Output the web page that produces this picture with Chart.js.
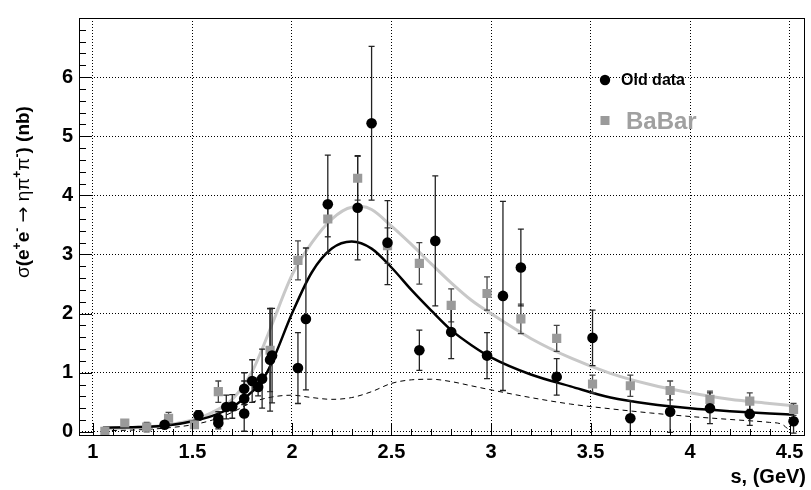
<!DOCTYPE html>
<html>
<head>
<meta charset="utf-8">
<script src="https://cdn.jsdelivr.net/npm/chart.js@4.4.1/dist/chart.umd.min.js"></script>
<style>
html,body{margin:0;padding:0;background:#fff;}
canvas{display:block;}
</style>
</head>
<body>
<canvas id="c" width="811" height="490"></canvas>
<script>
// ---- Data ----
const oldX   = [1.36,1.53,1.63,1.63,1.67,1.70,1.76,1.76,1.76,1.80,1.83,1.85,1.89,1.90,2.03,2.07,2.18,2.33,2.40,2.48,2.64,2.72,2.80,2.98,3.06,3.15,3.33,3.51,3.70,3.90,4.10,4.30,4.52];
const oldY   = [0.12,0.28,0.15,0.22,0.42,0.43,0.73,0.56,0.31,0.86,0.76,0.90,1.22,1.29,1.08,1.91,3.85,3.79,5.22,3.20,1.38,3.23,1.69,1.29,2.30,2.78,0.93,1.59,0.23,0.34,0.40,0.30,0.18];
const oldErr = [0.05,0.08,0.10,0.12,0.20,0.20,0.27,0.30,0.30,0.36,0.15,0.50,0.87,0.80,0.60,1.20,0.83,0.88,1.30,0.71,0.34,1.10,0.45,0.39,1.60,0.65,0.31,0.47,0.30,0.35,0.26,0.19,0.20];

const babarX   = [1.06,1.16,1.27,1.38,1.51,1.63,1.89,2.03,2.18,2.33,2.48,2.64,2.80,2.98,3.15,3.33,3.51,3.70,3.90,4.10,4.30,4.52];
const babarY   = [0.01,0.15,0.08,0.23,0.12,0.68,1.38,2.90,3.60,4.29,3.15,2.85,2.14,2.34,1.91,1.58,0.81,0.78,0.70,0.55,0.52,0.38];
const babarErr = [0.03,0.04,0.08,0.10,0.05,0.18,0.70,0.33,0.30,0.37,0.30,0.35,0.28,0.28,0.25,0.22,0.15,0.18,0.16,0.14,0.14,0.10];

const fitOldX = [1.05,1.2,1.3,1.4,1.5,1.6,1.7,1.8,1.85,1.9,2.0,2.1,2.2,2.3,2.4,2.5,2.6,2.7,2.8,2.9,3.0,3.2,3.4,3.6,3.8,4.0,4.2,4.4,4.52];
const fitOldY = [0.07,0.08,0.09,0.12,0.18,0.27,0.42,0.68,0.86,1.18,2.0,2.7,3.1,3.22,3.1,2.78,2.4,2.05,1.72,1.47,1.26,0.97,0.77,0.58,0.47,0.40,0.35,0.31,0.29];

const fitBabarX = [1.05,1.2,1.3,1.4,1.5,1.6,1.7,1.8,1.85,1.9,2.0,2.1,2.2,2.3,2.35,2.4,2.5,2.6,2.7,2.8,2.9,3.0,3.2,3.4,3.6,3.8,4.0,4.2,4.4,4.52];
const fitBabarY = [0.05,0.07,0.09,0.13,0.20,0.33,0.55,1.02,1.40,1.82,2.65,3.2,3.6,3.8,3.81,3.76,3.48,3.17,2.84,2.52,2.23,2.0,1.58,1.25,0.99,0.80,0.66,0.55,0.48,0.44];

const bgX = [1.05,1.2,1.35,1.5,1.6,1.7,1.8,1.9,2.0,2.1,2.2,2.3,2.4,2.5,2.6,2.7,2.8,2.9,3.0,3.2,3.4,3.6,3.8,4.0,4.2,4.4,4.46,4.49,4.5];
const bgY = [0.02,0.03,0.06,0.12,0.20,0.33,0.50,0.59,0.62,0.58,0.55,0.58,0.68,0.82,0.88,0.89,0.85,0.78,0.71,0.58,0.47,0.39,0.32,0.26,0.21,0.16,0.13,0.05,0.0];

const xTickValues = [1,1.5,2,2.5,3,3.5,4,4.5];
const yTickValues = [0,1,2,3,4,5,6];
const legendLabels = ['Old data','BaBar'];

const pts = (xs, ys) => xs.map((x,i)=>({x:x, y:ys[i]}));

const FONT = '"Liberation Sans", Arial, Helvetica, sans-serif';

// ---- Plugins ----
const errorBars = {
  id: 'errorBars',
  afterDatasetDraw(chart, args) {
    if (args.index !== 2) return;
    const {ctx, chartArea:a, scales:{x, y}} = chart;
    ctx.save();
    ctx.beginPath(); ctx.rect(a.left, a.top, a.right-a.left, a.bottom-a.top); ctx.clip();
    ctx.lineWidth = 1.3;
    const draw = (xs, ys, es, col) => {
      ctx.strokeStyle = col;
      xs.forEach((xv,i)=>{
        const px = x.getPixelForValue(xv);
        const p1 = y.getPixelForValue(ys[i]+es[i]);
        const p2 = y.getPixelForValue(ys[i]-es[i]);
        ctx.beginPath();
        ctx.moveTo(px,p1); ctx.lineTo(px,p2);
        ctx.moveTo(px-3,p1); ctx.lineTo(px+3,p1);
        ctx.moveTo(px-3,p2); ctx.lineTo(px+3,p2);
        ctx.stroke();
      });
    };
    draw(babarX, babarY, babarErr, '#444');
    draw(oldX, oldY, oldErr, '#222');
    ctx.restore();
  }
};

const frameTicks = {
  id: 'frameTicks',
  afterDraw(chart) {
    const {ctx, chartArea:a, scales:{x, y}} = chart;
    ctx.save();
    ctx.strokeStyle = '#000';
    ctx.lineWidth = 1;
    ctx.strokeRect(Math.round(a.left)+0.5, Math.round(a.top)+0.5, Math.round(a.right-a.left)-1, Math.round(a.bottom-a.top)-1);
    ctx.beginPath();
    for (let k=10; k<=45; k++) {
      const v = k/10;
      const px = Math.round(x.getPixelForValue(v))+0.5;
      const len = (k%5===0) ? 13 : 7;
      ctx.moveTo(px, a.bottom); ctx.lineTo(px, a.bottom-len);
    }
    for (let k=0; k<=35; k++) {
      const v = k*0.2;
      const py = Math.round(y.getPixelForValue(v))+0.5;
      const len = (k%5===0) ? 13 : 7;
      ctx.moveTo(a.left, py); ctx.lineTo(a.left+len, py);
    }
    ctx.stroke();

    // Legend
    const lx = 605;
    ctx.fillStyle = '#000';
    ctx.beginPath(); ctx.arc(lx, 80, 5.2, 0, Math.PI*2); ctx.fill();
    ctx.font = 'bold 16px ' + FONT;
    ctx.textBaseline = 'middle';
    ctx.textAlign = 'left';
    ctx.fillText(legendLabels[0], 621, 81);
    ctx.fillStyle = '#9a9a9a';
    ctx.fillRect(lx-4.5, 116, 9, 9);
    ctx.font = 'bold 24px ' + FONT;
    ctx.fillStyle = '#a0a0a0';
    ctx.fillText(legendLabels[1], 626, 122);

    // X title
    ctx.fillStyle = '#000';
    ctx.font = 'bold 20px ' + FONT;
    ctx.textAlign = 'right';
    ctx.fillText('s, (GeV)', 806, 477);

    // Y title (rotated, rich text)
    ctx.translate(29, 278);
    ctx.rotate(-Math.PI/2);
    ctx.textAlign = 'left';
    ctx.textBaseline = 'alphabetic';
    const B = 'bold 19px ' + FONT, R = '19px ' + FONT, S = 'bold 12px ' + FONT, A = '19px "DejaVu Sans"';
    const segs = [
      ['σ', R, 0], ['(e', B, 0], ['+', S, -8], ['e', B, 0], ['-', S, -8],
      [' ', R, 0], ['→', A, 0], [' ', R, 0], ['ηπ', R, 0], ['+', S, -8], ['π', R, 0], ['-', S, -8], [') (nb)', B, 0]
    ];
    let cx = 0;
    segs.forEach(([t,f,dy])=>{
      ctx.font = f;
      ctx.fillText(t, cx, dy);
      cx += ctx.measureText(t).width;
    });
    ctx.restore();
  }
};

const ctx = document.getElementById('c').getContext('2d');
new Chart(ctx, {
  type: 'scatter',
  data: {
    datasets: [
      { type:'line', label:'fit BaBar', data: pts(fitBabarX, fitBabarY), borderColor:'#c8c8c8', borderWidth:3, pointRadius:0, fill:false, cubicInterpolationMode:'monotone', order:6 },
      { type:'line', label:'fit old', data: pts(fitOldX, fitOldY), borderColor:'#000', borderWidth:2.5, pointRadius:0, fill:false, cubicInterpolationMode:'monotone', order:5 },
      { type:'line', label:'background', data: pts(bgX, bgY), borderColor:'#000', borderWidth:1, borderDash:[5,4], pointRadius:0, fill:false, cubicInterpolationMode:'monotone', order:4 },
      { label:'BaBar', data: pts(babarX, babarY), pointStyle:'rect', pointRadius:6.5, backgroundColor:'#9a9a9a', borderColor:'#9a9a9a', borderWidth:0, order:2 },
      { label:'Old data', data: pts(oldX, oldY), pointStyle:'circle', pointRadius:5.3, backgroundColor:'#000', borderColor:'#000', borderWidth:0, order:1 }
    ]
  },
  options: {
    responsive: false,
    animation: false,
    layout: { padding: { top: 11, right: 4, left: 0, bottom: 0 } },
    plugins: { legend: { display:false }, tooltip: { enabled:false } },
    scales: {
      x: {
        type:'linear', min:0.93, max:4.575,
        afterBuildTicks: s => { s.ticks = xTickValues.map(v=>({value:v})); },
        afterFit: s => { s.height = 54; },
        grid: { color:'#000', lineWidth:1, drawTicks:false },
        border: { display:false, dash:[1,2] },
        ticks: { color:'#000', padding:4, font:{ family:FONT, size:20, weight:'bold' }, maxRotation:0, autoSkip:false, callback: v => String(v) }
      },
      y: {
        type:'linear', min:-0.07, max:7.0,
        afterBuildTicks: s => { s.ticks = yTickValues.map(v=>({value:v})); },
        afterFit: s => { s.width = 79; },
        grid: { color:'#000', lineWidth:1, drawTicks:false },
        border: { display:false, dash:[1,2] },
        ticks: { color:'#000', padding:6, font:{ family:FONT, size:20, weight:'bold' }, autoSkip:false, callback: v => String(v) }
      }
    }
  },
  plugins: [errorBars, frameTicks]
});
</script>
</body>
</html>
